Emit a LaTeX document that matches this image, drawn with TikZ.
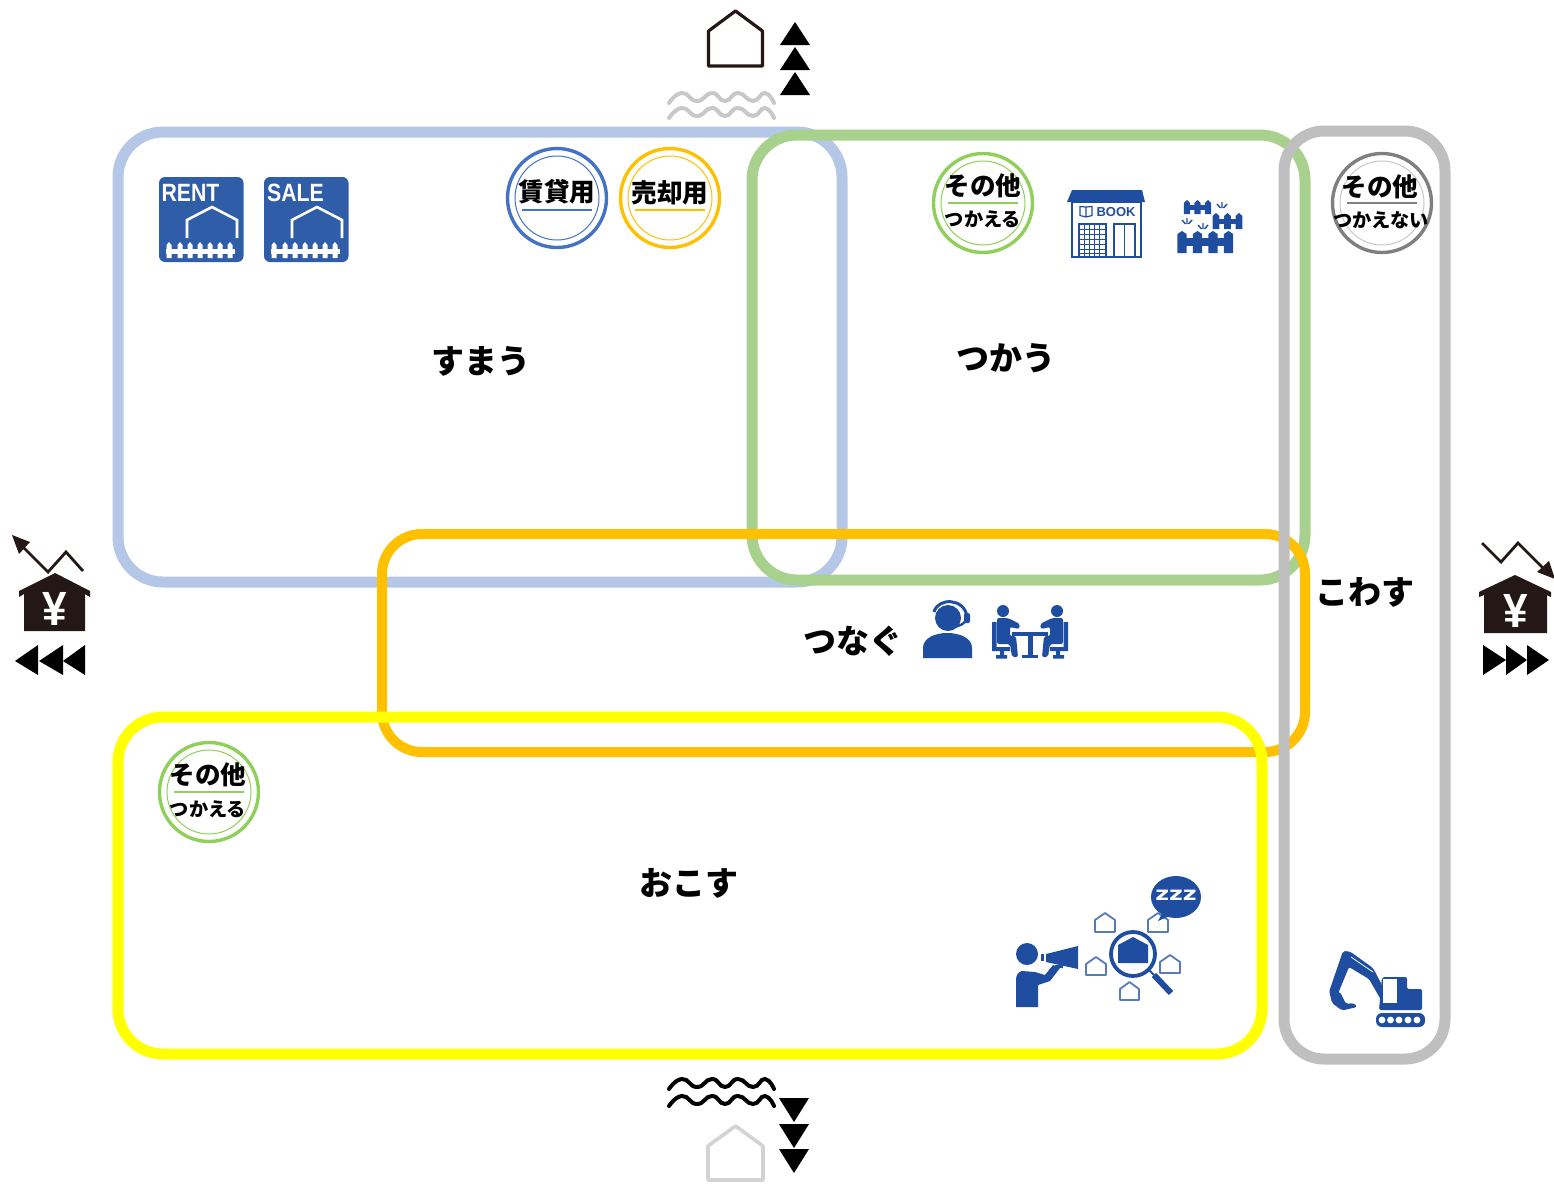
\documentclass[tikz,border=0pt]{standalone}
\usepackage{fontspec}
\setmainfont{Liberation Sans}
\newfontfamily\jp{Noto Sans CJK JP}
\newfontfamily\djv{DejaVu Sans}
\definecolor{cblue}{HTML}{B4C7E7}
\definecolor{cgreen}{HTML}{A9D18E}
\definecolor{corange}{HTML}{FFC000}
\definecolor{cyellow}{HTML}{FFFF00}
\definecolor{cgray}{HTML}{BFBFBF}
\definecolor{icon}{HTML}{1F4EA1}
\definecolor{tile}{HTML}{2F5DA8}
\definecolor{ink}{HTML}{231815}
\definecolor{bring}{HTML}{4472C4}
\definecolor{gring}{HTML}{8FCF5A}
\definecolor{dring}{HTML}{7F7F7F}
\definecolor{lring}{HTML}{C8C8C8}
\tikzset{
  zone/.style={line width=5.5pt,rounded corners=22.5pt},
  label/.style={inner sep=0pt,font=\jp\bfseries\fontsize{16.5}{17}\selectfont},
  big/.style={inner sep=0pt,font=\jp\bfseries\fontsize{12.8}{13}\selectfont},
  small/.style={inner sep=0pt,font=\jp\bfseries\fontsize{9.6}{10}\selectfont},
  ic/.style={fill=icon,draw=none},
  wave/.style={line width=2pt,line cap=round},
}
\newcommand\myhut[6][]{\draw[line join=round,#1] (#2,#6) -- (#2,#4) -- ({(#2+#3)/2},#5) -- (#3,#4) -- (#3,#6) -- cycle;}
\newcommand\mywave[2]{\draw[wave,#2] plot[smooth,tension=.9] coordinates {(669,#1+10) (682,#1) (697,#1+8) (712,#1) (725,#1+8) (738,#1) (753,#1+8) (765,#1) (774,#1+10)};}
\newcommand\mybadge[6]{%
  \node (#1) [circle,draw=#4,line width=1.7pt,minimum size=49.5pt,inner sep=0pt] at (#2,#3) {};
  \node (#1i) [circle,draw=#5,line width=.5pt,minimum size=42pt,inner sep=0pt] at (#2,#3) {};
  \draw[#4,line width=.8pt] (#2-35,#3+#6) -- (#2+35,#3+#6);}
\newcommand\mytile[2]{%
  \begin{scope}[shift={(#1,0)}]
  \fill[tile,rounded corners=3pt] (159,177) rectangle (243.5,262);
  \node (#2t) [white,inner sep=0pt,font=\bfseries\fontsize{12.5}{13}\selectfont,xscale=.85,transform shape] at (190.5,192.5) {#2};
  \draw[white,line width=1.3pt] (187,238) -- (187,220) -- (212,207) -- (237,220) -- (237,238);
  \fill[white] (166,249) rectangle (235,254);
  \foreach \k in {169,180,190,200,210,220,230}
    \fill[white] (\k-2.5,258) -- (\k-2.5,245) -- (\k,242) -- (\k+2.5,245) -- (\k+2.5,258) -- cycle;
  \end{scope}}
\newcommand\myfence[7]{% x0 step n ytop ybot barTop barBot
  \fill[icon] (#1,#6) rectangle ({#1+#2*(#3-1)},#7);
  \foreach \j in {1,...,#3}{
    \pgfmathsetmacro\xx{#1+#2*(\j-1)}
    \fill[icon] (\xx-#2*.3,#5) -- (\xx-#2*.3,#4+3) -- (\xx,#4) -- (\xx+#2*.3,#4+3) -- (\xx+#2*.3,#5) -- cycle;}}
\newcommand\mysparks[2]{\draw[icon,line width=.7pt] (#1-1.5,#2) -- (#1-5,#2-4) (#1,#2) -- (#1,#2-6) (#1+1.5,#2) -- (#1+5,#2-4);}
\begin{document}
\begin{tikzpicture}[x=.5pt,y=-.5pt]
\useasboundingbox (0,0) rectangle (1554,1184);
% zones
\draw[zone,cblue] (118,132) rectangle (842,582);
\draw[zone,cgreen] (752,135) rectangle (1305,580);
\draw[zone,corange,line width=5pt,rounded corners=20pt] (382,534) rectangle (1305,752);
\draw[zone,cyellow] (118,717) rectangle (1262,1054);
\draw[zone,cgray,rounded corners=20pt] (1284,131) rectangle (1445,1059);
% labels
\node (sumau) [label] at (481,361) {すまう};
\node (tsukau) [label] at (1006,358) {つかう};
\node (tsunagu) [label] at (853,641) {つなぐ};
\node (kowasu) [label] at (1365,592) {こわす};
\node (okosu) [label] at (689,883) {おこす};
% badges
\mybadge{chin}{557}{198}{bring}{bring}{12}
\node (chint) [big] at (557,192) {賃貸用};
\mybadge{bai}{670}{198}{corange}{corange}{12}
\node (bait) [big] at (670,193) {売却用};
\mybadge{sonoa}{983}{203}{gring}{gring}{0}
\node (sonoat) [big] at (983,186) {その他};
\node (tsuka) [small] at (983,219) {つかえる};
\mybadge{sonob}{209}{792}{gring}{gring}{0}
\node (sonobt) [big] at (208,775) {その他};
\node (tsukb) [small] at (208,809) {つかえる};
\mybadge{sonoc}{1382}{203}{dring}{lring}{0}
\node (sonoct) [big] at (1380,187) {その他};
\node (tsukc) [small] at (1381,220) {つかえない};
% tiles
\mytile{0}{RENT}
\mytile{105}{SALE}
% top house and waves
\myhut[ink,line width=1.6pt]{708.5}{762.5}{31}{11}{66}
\mywave{93}{lring}
\mywave{108}{lring}
\foreach \a in {22,47,72}
  \fill (780,\a+23) -- (795,\a) -- (810,\a+23) -- cycle;
% bottom
\mywave{1079}{black}
\mywave{1096}{black}
\foreach \a in {1098,1124,1149}
  \fill (779,\a) -- (809,\a) -- (794,\a+24) -- cycle;
\myhut[lring!80,line width=1.8pt]{708}{763}{1146}{1126}{1180}
% left yen
\draw[ink,line width=1.4pt] (83,571) -- (66,552) -- (48,572) -- (22,546);
\fill[ink] (12,535) -- (30,542) -- (19,554) -- cycle;
\fill[ink] (55,573) -- (90,591) -- (90,597) -- (85,594) -- (85,631) -- (24,631) -- (24,594) -- (19,597) -- (19,591) -- cycle;
\node (yenl) [white,inner sep=0pt,font=\bfseries\fontsize{24}{24}\selectfont,xscale=.92,transform shape] at (55,609) {¥};
\fill (15,661) -- (38,645) -- (38,675) -- cycle;
\fill (39,661) -- (63,645) -- (63,675) -- cycle;
\fill (63,661) -- (85,645) -- (85,675) -- cycle;
% right yen
\draw[ink,line width=1.4pt] (1482,543) -- (1501,562) -- (1518,543) -- (1546,571);
\fill[ink] (1555,579) -- (1537,572) -- (1549,561) -- cycle;
\fill[ink] (1515,575) -- (1551,592) -- (1551,597) -- (1547,595) -- (1547,633) -- (1484,633) -- (1484,595) -- (1479,597) -- (1479,592) -- cycle;
\node (yenr) [white,inner sep=0pt,font=\bfseries\fontsize{24}{24}\selectfont,xscale=.92,transform shape] at (1516,611) {¥};
\fill (1483,645) -- (1506,660) -- (1483,675) -- cycle;
\fill (1506,645) -- (1527,660) -- (1506,675) -- cycle;
\fill (1527,645) -- (1549,660) -- (1527,675) -- cycle;
% book shop
\fill[icon] (1067,202) -- (1072,190) -- (1142,190) -- (1145,202) -- cycle;
\draw[icon,line width=.8pt] (1072,202) rectangle (1141,257);
\draw[icon,line width=.6pt] (1079,224) rectangle (1106,257) (1114,224) rectangle (1135,257) (1124.5,224) -- (1124.5,257);
\foreach \b in {229,234,239,244,249,253}
  \draw[icon,line width=.5pt] (1079,\b) -- (1106,\b);
\foreach \b in {1084,1089,1094,1099}
  \draw[icon,line width=.25pt] (\b,224) -- (\b,257);
\draw[icon,line width=.6pt] (1086,207) -- (1086,217) (1086,217) -- (1080,215.5) -- (1080,206.5) -- (1086,207) -- (1092,206.5) -- (1092,215.5) -- (1086,217);
\node (book) [icon,inner sep=0pt,font=\bfseries\fontsize{6.5}{7}\selectfont] at (1116,212) {BOOK};
% fences
\myfence{1187}{10.5}{3}{200}{214}{205}{210}
\myfence{1216}{11.5}{3}{213}{229}{219}{224}
\myfence{1182}{15.5}{4}{231}{253}{238}{246}
\mysparks{1222}{208}
\mysparks{1187}{224}
\mysparks{1203}{229}
% operator
\fill[icon] (923,658) -- (923,648) .. controls (923,638) and (935,633) .. (947,633) .. controls (960,633) and (972,638) .. (972,648) -- (972,658) -- cycle;
\fill[icon] (948,618) circle (13);
\draw[icon,line width=1.5pt] (934,612) .. controls (938,597) and (965,598) .. (967,617);
\draw[icon,line width=1.2pt] (966,620) .. controls (964,624) and (960,626) .. (953,627);
\fill[icon,rounded corners=1pt] (964,613) rectangle (970,623);
% meeting
\fill[icon] (1012,631.5) rectangle (1048,635.5);
\fill[icon] (1028,635) rectangle (1032.5,655);
\fill[icon] (1022,655) rectangle (1038,658);
\foreach \s/\m in {0/1,2060/-1}{
\begin{scope}[shift={(\s,0)},xscale=\m]
  \fill[icon] (1003,611) circle (6);
  \fill[icon,rounded corners=1pt] (997,618) -- (1008,618) -- (1020,624) -- (1019,629) -- (1010,627) -- (1010,636) -- (1016,636) -- (1018,657) -- (1012,657) -- (1010,644) -- (997,644) -- cycle;
  \fill[icon] (992,622) rectangle (996.5,650) (992,647) rectangle (1010,651);
  \fill[icon] (1000,650) rectangle (1004,655) (996,655) rectangle (1007,658.5);
\end{scope}}
% megaphone scene
\fill[icon] (1027,954) circle (11);
\fill[icon] (1016,1007) -- (1038,1007) -- (1038,985) -- (1050,981) -- (1060,968) -- (1053,965) -- (1045,975) -- (1035,972) -- (1022,971) .. controls (1018,972) and (1016,975) .. (1016,980) -- cycle;
\fill[icon] (1046,954) -- (1078,946) -- (1078,969) -- (1046,962) -- cycle;
\fill[icon] (1041,954) rectangle (1044,961);
\fill[icon] (1055,965) rectangle (1063,968);
\myhut[icon!75,line width=.9pt]{1095}{1115}{920}{913}{932}
\myhut[icon!75,line width=.9pt]{1148}{1168}{920}{913}{932}
\myhut[icon!75,line width=.9pt]{1086}{1106}{964}{957}{975}
\myhut[icon!75,line width=.9pt]{1160}{1180}{962}{955}{973}
\myhut[icon!75,line width=.9pt]{1120}{1139}{989}{982}{1000}
\draw[icon,line width=1.9pt] (1133,954) circle (22);
\fill[icon] (1118,963) -- (1118,945) -- (1133,937) -- (1148,945) -- (1148,963) -- cycle;
\draw[icon,line width=1pt] (1149,970) -- (1155,976);
\draw[icon,line width=3pt] (1154,975) -- (1171,993);
\fill[icon] (1158,921) -- (1163,912) -- (1172,915) -- cycle;
\fill[icon] (1176,897) ellipse (25 and 21);
\node (zzz) [white,inner sep=0pt,xscale=1.25,transform shape,font=\djv\bfseries\fontsize{9.5}{10}\selectfont] at (1176,895) {zzz};
% excavator
\fill[icon,rounded corners=3pt] (1376,1013) rectangle (1425,1027);
\foreach \c in {1382,1390.5,1399,1408,1417}
  \fill[white] (\c,1020) circle (3.4);
\fill[icon,rounded corners=1pt] (1379,1010) -- (1422,1010) -- (1422,989) -- (1407,989) -- (1407,977) -- (1382,977) -- cycle;
\fill[white] (1383,978.5) rectangle (1397,1003);
\fill[icon,rounded corners=1pt] (1382,985) -- (1373,968) -- (1350,951.5) -- (1343,951) -- (1329,992) -- (1337,996) -- (1349,967) -- (1369,979) -- (1381,1000) -- cycle;
\fill[icon,rounded corners=1pt] (1329,990) -- (1332,1003) -- (1342,1010.5) -- (1357,1007) -- (1354,1003) -- (1346,1004) -- (1340,992) -- cycle;
\draw[white,line width=.4pt] (1351,957) -- (1373,972);
\end{tikzpicture}
\end{document}
